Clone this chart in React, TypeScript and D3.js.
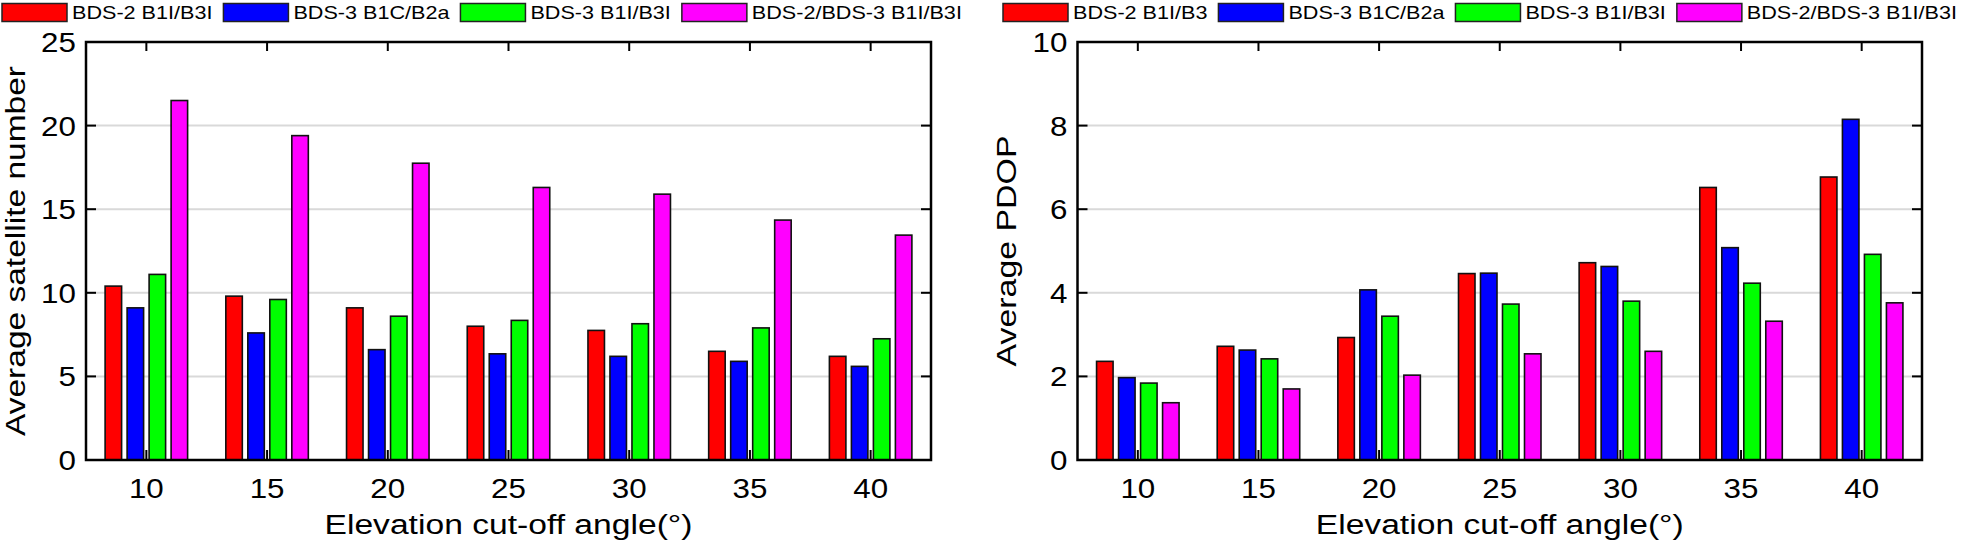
import React, { useEffect, useRef } from 'react'
import * as d3 from 'd3'

// elevation cut-off angles (deg)
const angles = ['10', '15', '20', '25', '30', '35', '40']

const satLegend = ['BDS-2 B1I/B3I', 'BDS-3 B1C/B2a', 'BDS-3 B1I/B3I', 'BDS-2/BDS-3 B1I/B3I']
const pdopLegend = ['BDS-2 B1I/B3', 'BDS-3 B1C/B2a', 'BDS-3 B1I/B3I', 'BDS-2/BDS-3 B1I/B3I']
const seriesColors = ['#ff0000', '#0000ff', '#00ff00', '#ff00ff']

// average satellite number
const satBds2 = [10.4, 9.8, 9.1, 8.0, 7.75, 6.5, 6.2]
const satBds3B1cB2a = [9.1, 7.6, 6.6, 6.35, 6.2, 5.9, 5.6]
const satBds3B1iB3i = [11.1, 9.6, 8.6, 8.35, 8.15, 7.9, 7.25]
const satCombined = [21.5, 19.4, 17.75, 16.3, 15.9, 14.35, 13.45]
const satTicks = [0, 5, 10, 15, 20, 25]

// average PDOP
const pdopBds2 = [2.36, 2.72, 2.93, 4.46, 4.72, 6.52, 6.77]
const pdopBds3B1cB2a = [1.97, 2.63, 4.07, 4.47, 4.63, 5.08, 8.15]
const pdopBds3B1iB3i = [1.84, 2.42, 3.44, 3.73, 3.8, 4.23, 4.92]
const pdopCombined = [1.37, 1.7, 2.03, 2.54, 2.6, 3.32, 3.76]
const pdopTicks = [0, 2, 4, 6, 8, 10]

const FONT = '"Liberation Sans", Arial, Helvetica, sans-serif'
const STRETCH = 1.2

interface PanelConfig {
  left: number
  right: number
  series: number[][]
  ticks: number[]
  yMax: number
  yTitle: string
  yTitleLen: number
  yTitleX: number
  legend: string[]
  legendX: number
}

function drawPanel(svg: d3.Selection<SVGSVGElement, unknown, null, undefined>, cfg: PanelConfig) {
  const top = 42
  const bottom = 460
  const g = svg.append('g')

  const x = d3.scaleBand<string>().domain(angles).range([cfg.left, cfg.right]).padding(0)
  const inner = d3.scaleBand<number>()
    .domain(d3.range(cfg.series.length))
    .range([-44, 44])
    .paddingInner(0.25)
    .paddingOuter(0.125)
  const y = d3.scaleLinear().domain([0, cfg.yMax]).range([bottom, top])

  // grid lines
  g.selectAll('line.grid')
    .data(cfg.ticks.filter(t => t > 0 && t < cfg.yMax))
    .join('line')
    .attr('x1', cfg.left).attr('x2', cfg.right)
    .attr('y1', d => y(d)).attr('y2', d => y(d))
    .attr('stroke', '#d9d9d9')
    .attr('stroke-width', 2)

  // bottom x ticks (behind bars)
  g.selectAll('line.xb')
    .data(angles)
    .join('line')
    .attr('x1', d => x(d)! + x.bandwidth() / 2)
    .attr('x2', d => x(d)! + x.bandwidth() / 2)
    .attr('y1', bottom).attr('y2', bottom - 10)
    .attr('stroke', '#000').attr('stroke-width', 2)

  // bars
  cfg.series.forEach((vals, si) => {
    g.selectAll(`rect.s${si}`)
      .data(vals)
      .join('rect')
      .attr('x', (_, i) => x(angles[i])! + x.bandwidth() / 2 + inner(si)!)
      .attr('y', d => y(d))
      .attr('width', inner.bandwidth())
      .attr('height', d => bottom - y(d))
      .attr('fill', seriesColors[si])
      .attr('stroke', '#111')
      .attr('stroke-width', 1.6)
  })

  // inward ticks: left, right, top
  cfg.ticks.forEach(t => {
    g.append('line').attr('x1', cfg.left).attr('x2', cfg.left + 10)
      .attr('y1', y(t)).attr('y2', y(t)).attr('stroke', '#000').attr('stroke-width', 2)
    g.append('line').attr('x1', cfg.right).attr('x2', cfg.right - 10)
      .attr('y1', y(t)).attr('y2', y(t)).attr('stroke', '#000').attr('stroke-width', 2)
  })
  angles.forEach(a => {
    const cx = x(a)! + x.bandwidth() / 2
    g.append('line').attr('x1', cx).attr('x2', cx)
      .attr('y1', top).attr('y2', top + 9).attr('stroke', '#000').attr('stroke-width', 2)
  })

  // frame
  g.append('rect')
    .attr('x', cfg.left).attr('y', top)
    .attr('width', cfg.right - cfg.left).attr('height', bottom - top)
    .attr('fill', 'none').attr('stroke', '#000').attr('stroke-width', 2.5)

  // y tick labels
  g.selectAll('text.yt')
    .data(cfg.ticks)
    .join('text')
    .attr('transform', d => `translate(${cfg.left - 10},${y(d) + 10}) scale(1.12,1)`)
    .attr('text-anchor', 'end')
    .attr('font-size', 28)
    .attr('font-family', FONT)
    .text(d => d)

  // x tick labels
  g.selectAll('text.xt')
    .data(angles)
    .join('text')
    .attr('transform', d => `translate(${x(d)! + x.bandwidth() / 2},498) scale(1.12,1)`)
    .attr('text-anchor', 'middle')
    .attr('font-size', 28)
    .attr('font-family', FONT)
    .text(d => d)

  // axis titles
  g.append('text')
    .attr('x', (cfg.left + cfg.right) / 2).attr('y', 534)
    .attr('text-anchor', 'middle')
    .attr('font-size', 27)
    .attr('font-family', FONT)
    .attr('textLength', 368)
    .attr('lengthAdjust', 'spacingAndGlyphs')
    .text('Elevation cut-off angle(°)')

  g.append('text')
    .attr('transform', `translate(${cfg.yTitleX},${(top + bottom) / 2}) rotate(-90)`)
    .attr('text-anchor', 'middle')
    .attr('font-size', 27)
    .attr('font-family', FONT)
    .attr('textLength', cfg.yTitleLen)
    .attr('lengthAdjust', 'spacingAndGlyphs')
    .text(cfg.yTitle)

  // legend
  let lx = cfg.legendX
  cfg.legend.forEach((label, i) => {
    g.append('rect')
      .attr('x', lx).attr('y', 3.5)
      .attr('width', 65).attr('height', 18)
      .attr('fill', seriesColors[i])
      .attr('stroke', '#222').attr('stroke-width', 1.5)
    const t = g.append('text')
      .attr('transform', `translate(${lx + 70},18.5) scale(${STRETCH},1)`)
      .attr('font-size', 18)
      .attr('font-family', FONT)
      .text(label)
    const w = (t.node() as SVGTextElement).getComputedTextLength() * STRETCH
    lx += 70 + w + 11
  })
}

export default function App() {
  const svgRef = useRef<SVGSVGElement>(null)

  useEffect(() => {
    if (!svgRef.current) return
    document.body.style.margin = '0'
    const svg = d3.select(svgRef.current)
    svg.selectAll('*').remove()

    drawPanel(svg, {
      left: 86,
      right: 931,
      series: [satBds2, satBds3B1cB2a, satBds3B1iB3i, satCombined],
      ticks: satTicks,
      yMax: 25,
      yTitle: 'Average satellite number',
      yTitleLen: 370,
      yTitleX: 25,
      legend: satLegend,
      legendX: 2
    })

    drawPanel(svg, {
      left: 1077.5,
      right: 1922,
      series: [pdopBds2, pdopBds3B1cB2a, pdopBds3B1iB3i, pdopCombined],
      ticks: pdopTicks,
      yMax: 10,
      yTitle: 'Average PDOP',
      yTitleLen: 231,
      yTitleX: 1016,
      legend: pdopLegend,
      legendX: 1003
    })
  }, [])

  return (
    <svg ref={svgRef} width={1961} height={545} style={{ display: 'block', background: '#fff' }} />
  )
}
